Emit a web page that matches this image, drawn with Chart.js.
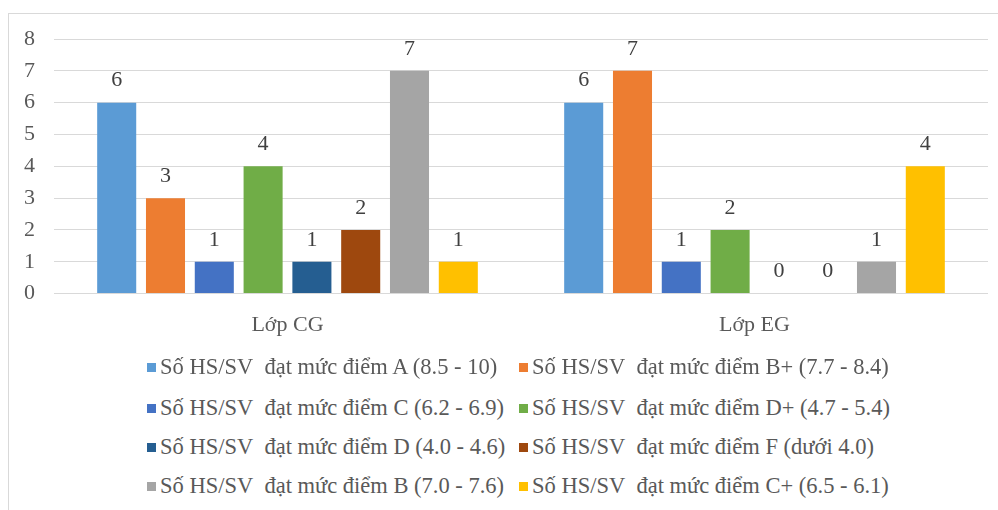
<!DOCTYPE html>
<html>
<head>
<meta charset="utf-8">
<script src="https://cdn.jsdelivr.net/npm/chart.js@4.4.0/dist/chart.umd.min.js"></script>
<style>
  body { margin: 0; background: #fff; width: 998px; height: 510px; overflow: hidden; position: relative; }
  #frame { position: absolute; left: 8px; top: 13px; width: 1100px; height: 600px; border: 1px solid #d9d9d9; box-sizing: border-box; }
  #wrap { position: absolute; left: 0; top: 0; width: 998px; height: 356px; }
  #legend { position: absolute; left: 147px; top: 0; font-family: "Liberation Serif", "Times New Roman", serif; font-size: 22.5px; color: #595959; }
  .item { position: absolute; white-space: nowrap; height: 26px; line-height: 26px; }
  .item span.box { display: inline-block; width: 9px; height: 9px; margin-right: 4px; vertical-align: 2px; }
</style>
</head>
<body>
<div id="frame"></div>
<div id="wrap"><canvas id="graph"></canvas></div>
<div id="legend"></div>
<script>
// 横軸
var categories = ['Lớp CG', 'Lớp EG'];
// 凡例
var seriesNames = [
  'Số HS/SV  đạt mức điểm A (8.5 - 10)',
  'Số HS/SV  đạt mức điểm B+ (7.7 - 8.4)',
  'Số HS/SV  đạt mức điểm C (6.2 - 6.9)',
  'Số HS/SV  đạt mức điểm D+ (4.7 - 5.4)',
  'Số HS/SV  đạt mức điểm D (4.0 - 4.6)',
  'Số HS/SV  đạt mức điểm F (dưới 4.0)',
  'Số HS/SV  đạt mức điểm B (7.0 - 7.6)',
  'Số HS/SV  đạt mức điểm C+ (6.5 - 6.1)'
];
var seriesColors = ['#5B9BD5', '#ED7D31', '#4472C4', '#70AD47', '#255E91', '#9E480E', '#A5A5A5', '#FFC000'];
// データ
var gradeA  = [6, 6];
var gradeBp = [3, 7];
var gradeC  = [1, 1];
var gradeDp = [4, 2];
var gradeD  = [1, 0];
var gradeF  = [2, 0];
var gradeB  = [7, 1];
var gradeCp = [1, 4];
var yTicks = [0, 1, 2, 3, 4, 5, 6, 7, 8];

var seriesValues = [gradeA, gradeBp, gradeC, gradeDp, gradeD, gradeF, gradeB, gradeCp];
var serifFont = '"Liberation Serif", "Times New Roman", serif';

// 棒の上に数値を書く
var valueLabels = {
  id: 'valueLabels',
  afterDatasetsDraw: function(chart) {
    var ctx = chart.ctx;
    ctx.save();
    ctx.font = '22px ' + serifFont;
    ctx.fillStyle = '#404040';
    ctx.textAlign = 'center';
    ctx.textBaseline = 'middle';
    chart.data.datasets.forEach(function(ds, i) {
      chart.getDatasetMeta(i).data.forEach(function(bar, j) {
        ctx.fillText(ds.data[j], bar.x, bar.y - 22);
      });
    });
    ctx.restore();
  }
};

var drawGraph = function() {
  var ctx = document.getElementById('graph').getContext('2d');
  var datasets = seriesValues.map(function(v, i) {
    return { label: seriesNames[i], data: v, backgroundColor: seriesColors[i],
             barPercentage: 0.8, categoryPercentage: 0.836 };
  });
  var config = {
    type: 'bar',
    data: { labels: categories, datasets: datasets },
    options: {
      responsive: true,
      maintainAspectRatio: false,
      animation: false,
      layout: { padding: { top: 39, left: 5, right: 10, bottom: 0 } },
      plugins: { legend: { display: false }, tooltip: { enabled: false } },
      scales: {
        x: {
          grid: { display: false, drawTicks: false },
          border: { display: false },
          ticks: { padding: 18, color: '#595959', font: { family: serifFont, size: 22 } }
        },
        y: {
          min: 0, max: 8,
          afterBuildTicks: function(axis) { axis.ticks = yTicks.map(function(t) { return { value: t }; }); },
          grid: { color: '#d9d9d9', drawTicks: false },
          border: { display: false },
          ticks: { padding: 19, color: '#595959', font: { family: serifFont, size: 22 } }
        }
      }
    },
    plugins: [valueLabels]
  };
  new Chart(ctx, config);

  // 凡例 (2列)
  var legend = document.getElementById('legend');
  var rowY = [367, 408, 447, 486];
  seriesNames.forEach(function(name, i) {
    var d = document.createElement('div');
    d.className = 'item';
    d.style.left = (i % 2 === 0 ? 0 : 372) + 'px';
    d.style.top = (rowY[Math.floor(i / 2)] - 13) + 'px';
    d.innerHTML = '<span class="box" style="background:' + seriesColors[i] + '"></span>' + name.replace('  ', '&nbsp; ');
    legend.appendChild(d);
  });
};

window.onload = drawGraph;
</script>
</body>
</html>
